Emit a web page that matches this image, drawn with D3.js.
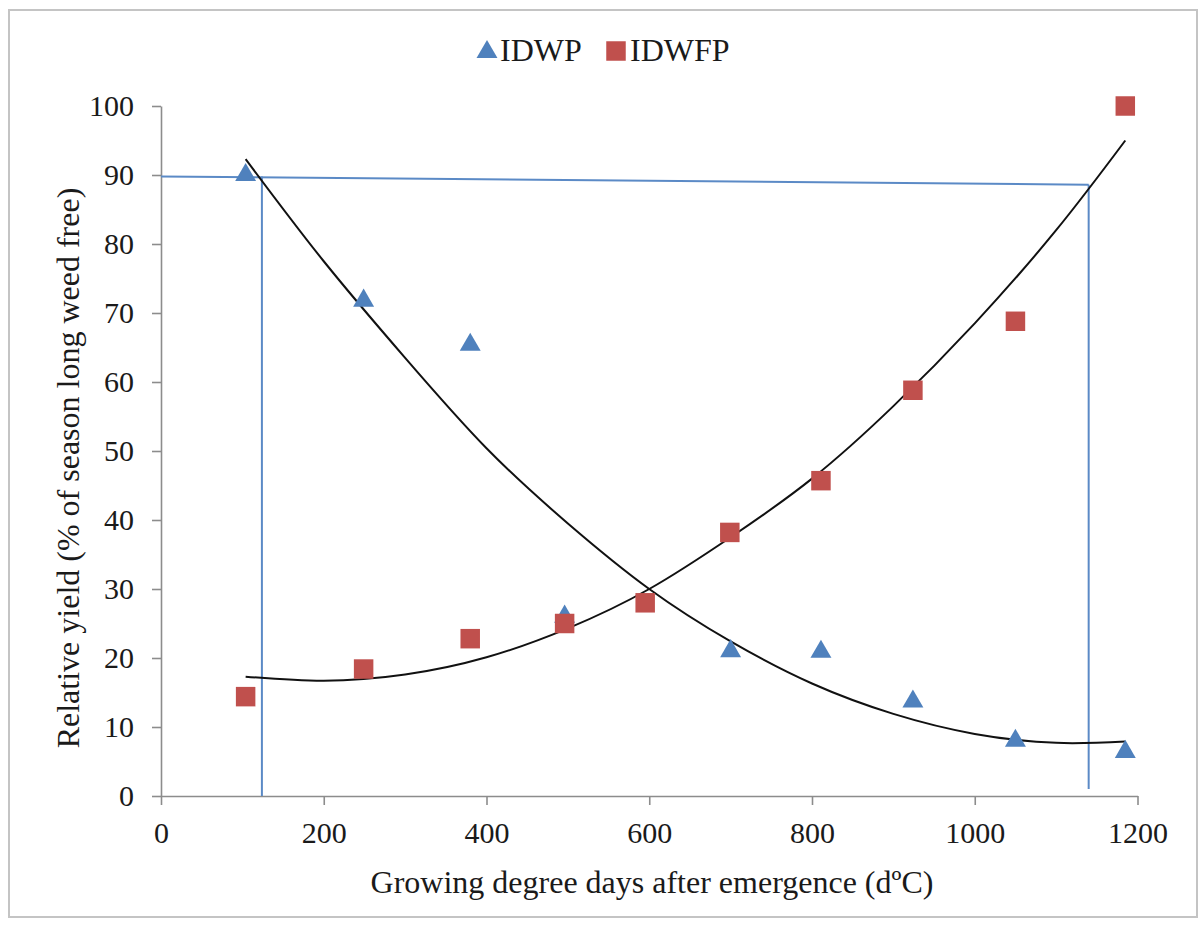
<!DOCTYPE html>
<html>
<head>
    <meta charset="utf-8" />
    <title>Relative yield</title>
    <style>
        body {
            margin: 0;
            background: #fff;
            font-family: "Liberation Serif", "Times New Roman", serif;
        }

        .tick text {
            font-size: 30px;
            fill: #1a1a1a;
        }

        .axis path,
        .axis line {
            stroke: #8c8c8c;
            stroke-width: 1.6;
        }

        .axis-title {
            font-size: 32px;
            fill: #1a1a1a;
            text-anchor: middle;
        }

        .legend-label {
            font-size: 32px;
            fill: #1a1a1a;
        }
    </style>
</head>
<body>
    <script src="https://d3js.org/d3.v7.min.js"></script>
    <script>
        // measured points (GDD, relative yield)
        let gddIdwp = [104, 249, 380, 496, 700, 811, 924, 1050, 1185]
        let yieldIdwp = [90, 71.8, 65.4, 26, 21, 20.9, 13.7, 8, 6.4]

        let gddIdwfp = [104, 249, 380, 496, 595, 699, 811, 924, 1050, 1185]
        let yieldIdwfp = [14.4, 18.4, 22.8, 25, 28, 38.2, 45.7, 58.8, 68.8, 100]

        // fitted curves
        let curveX = [104, 200, 300, 400, 500, 600, 700, 800, 900, 1000, 1100, 1185]
        let curveIdwp = [92.3, 77.5, 63.5, 50.4, 39.5, 30.0, 22.4, 16.3, 11.9, 9.0, 7.7, 7.9]
        let curveIdwfp = [17.3, 16.7, 17.6, 20.1, 24.3, 30.0, 37.5, 46.0, 56.5, 68.5, 82.0, 95.0]

        // critical period guide lines
        let guideX = [124, 1140]
        let guideY = [89.8, 88.6]

        let xTicks = [0, 200, 400, 600, 800, 1000, 1200]
        let yTicks = [0, 10, 20, 30, 40, 50, 60, 70, 80, 90, 100]

        let seriesNames = ['IDWP', 'IDWFP']

        let width = 1199,
            height = 925,
            plot = { left: 161, right: 1137.5, top: 106, bottom: 796 }

        let blue = '#4f81bd',
            red = '#c0504d',
            guideColor = '#5b8ac6'

        let x = d3.scaleLinear()
                    .domain([0, 1200])
                    .range([plot.left, plot.right])

        let y = d3.scaleLinear()
                    .domain([0, 100])
                    .range([plot.bottom, plot.top])

        let svg = d3.select('body')
                    .append('svg')
                    .attr('width', width)
                    .attr('height', height)

        // outer frame
        svg.append('rect')
            .attr('x', 9)
            .attr('y', 10)
            .attr('width', 1188)
            .attr('height', 907)
            .attr('fill', 'none')
            .attr('stroke', '#c4c4c4')
            .attr('stroke-width', 2)

        svg.append('g')
            .attr('class', 'axis')
            .attr('transform', `translate(0, ${plot.bottom})`)
            .call(d3.axisBottom(x).tickValues(xTicks).tickFormat(d3.format('d'))
                .tickSize(9).tickPadding(17).tickSizeOuter(0))

        svg.append('g')
            .attr('class', 'axis')
            .attr('transform', `translate(${plot.left}, 0)`)
            .call(d3.axisLeft(y).tickValues(yTicks).tickFormat(d3.format('d'))
                .tickSize(9).tickPadding(18).tickSizeOuter(0))

        svg.selectAll('.axis')
            .attr('font-family', null)
            .attr('font-size', null)

        // guide lines
        let guide = svg.append('g')
                        .attr('stroke', guideColor)
                        .attr('stroke-width', 2)
                        .attr('fill', 'none')

        guide.append('line')
            .attr('x1', x(0)).attr('y1', y(guideY[0]))
            .attr('x2', x(guideX[1])).attr('y2', y(guideY[1]))

        guide.selectAll('.vline')
            .data(guideX)
            .enter()
                .append('line')
                .attr('x1', function (d) { return x(d) })
                .attr('x2', function (d) { return x(d) })
                .attr('y1', function (d, i) { return y(guideY[i]) })
                .attr('y2', function (d, i) { return i === 0 ? y(0) : y(1) })

        // fitted curves
        let line = d3.line()
                    .x(function (d) { return x(d[0]) })
                    .y(function (d) { return y(d[1]) })
                    .curve(d3.curveNatural)

        let curves = [d3.zip(curveX, curveIdwp), d3.zip(curveX, curveIdwfp)]

        svg.append('g')
            .selectAll('path')
            .data(curves)
            .enter()
                .append('path')
                .attr('d', line)
                .attr('fill', 'none')
                .attr('stroke', '#111')
                .attr('stroke-width', 2)

        // markers
        let triangle = d3.symbol().type(d3.symbolTriangle).size(190)
        let square = d3.symbol().type(d3.symbolSquare).size(380)

        svg.append('g')
            .selectAll('path')
            .data(d3.zip(gddIdwp, yieldIdwp))
            .enter()
                .append('path')
                .attr('d', triangle)
                .attr('transform', function (d) { return `translate(${x(d[0])}, ${y(d[1])})` })
                .attr('fill', blue)

        svg.append('g')
            .selectAll('path')
            .data(d3.zip(gddIdwfp, yieldIdwfp))
            .enter()
                .append('path')
                .attr('d', square)
                .attr('transform', function (d) { return `translate(${x(d[0])}, ${y(d[1])})` })
                .attr('fill', red)

        // legend
        let legend = svg.append('g')

        legend.append('path')
            .attr('d', triangle)
            .attr('transform', 'translate(487, 52)')
            .attr('fill', blue)

        legend.append('text')
            .attr('class', 'legend-label')
            .attr('x', 500)
            .attr('y', 61)
            .text(seriesNames[0])

        legend.append('path')
            .attr('d', square)
            .attr('transform', 'translate(616, 51)')
            .attr('fill', red)

        legend.append('text')
            .attr('class', 'legend-label')
            .attr('x', 630)
            .attr('y', 61)
            .text(seriesNames[1])

        // axis titles
        svg.append('text')
            .attr('class', 'axis-title')
            .attr('x', 652)
            .attr('y', 893)
            .text('Growing degree days after emergence (dºC)')

        svg.append('text')
            .attr('class', 'axis-title')
            .attr('transform', 'translate(79, 468) rotate(-90)')
            .text('Relative yield (% of season long weed free)')
    </script>
</body>
</html>
